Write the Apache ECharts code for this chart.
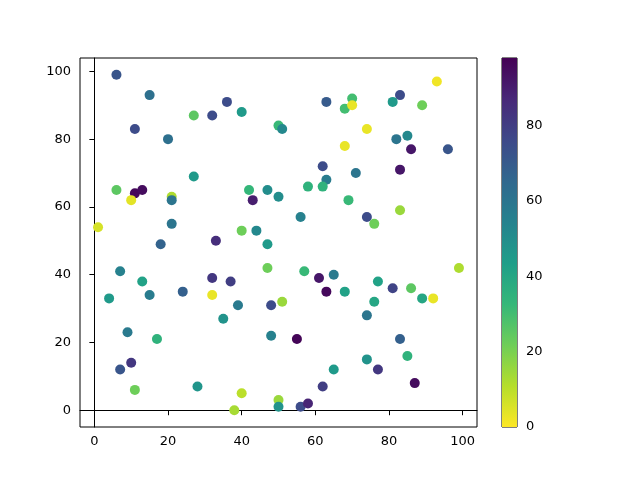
<!DOCTYPE html>
<html>
<head>
<meta charset="utf-8">
<script src="https://cdn.jsdelivr.net/npm/echarts@6/dist/echarts.min.js"></script>
<style>
  html, body { margin: 0; padding: 0; background: #fff; }
  #main { width: 640px; height: 480px; }
</style>
</head>
<body>
<div id="main"></div>
<script>
// 散点数据：x, y, 颜色值
var xs = [6, 15, 27, 32, 11, 20, 27, 6, 11, 13, 10, 21, 21, 1, 21, 18, 33, 36, 40, 50,
          51, 63, 68, 70, 70, 68, 62, 63, 58, 62, 42, 47, 43, 50, 56, 40, 44, 47, 93, 83,
          81, 89, 74, 82, 85, 86, 96, 71, 83, 69, 83, 74, 76, 7, 13, 4, 15, 24, 32, 32,
          9, 17, 10, 7, 11, 28, 47, 57, 61, 65, 63, 68, 37, 39, 48, 51, 35, 48, 55, 65,
          62, 40, 38, 50, 50, 56, 58, 77, 81, 86, 76, 89, 92, 99, 74, 83, 85, 74, 77, 87];
var ys = [99, 93, 87, 87, 83, 80, 69, 65, 64, 65, 62, 63, 62, 54, 55, 49, 50, 91, 88, 84,
          83, 91, 89, 92, 90, 78, 72, 68, 66, 66, 65, 65, 62, 63, 57, 53, 53, 49, 97, 93,
          91, 90, 83, 80, 81, 77, 77, 70, 71, 62, 59, 57, 55, 41, 38, 33, 34, 35, 39, 34,
          23, 21, 14, 12, 6, 7, 42, 41, 39, 40, 35, 35, 38, 31, 31, 32, 27, 22, 21, 12,
          7, 5, 0, 3, 1, 1, 2, 38, 36, 36, 32, 33, 33, 42, 28, 21, 16, 15, 12, 8];
var cs = [72, 62, 25, 75, 75, 62, 45, 25, 96, 95, 4, 12, 60, 6, 60, 67, 85, 75, 45, 32,
          52, 70, 30, 30, 3, 3, 75, 57, 35, 35, 33, 50, 90, 50, 55, 22, 52, 45, 2, 75,
          45, 22, 3, 60, 52, 92, 72, 60, 92, 32, 15, 75, 22, 55, 42, 45, 57, 68, 82, 3,
          58, 35, 82, 72, 22, 47, 22, 32, 92, 58, 96, 42, 80, 58, 75, 15, 48, 55, 97, 45,
          80, 10, 13, 15, 48, 75, 88, 42, 78, 25, 40, 40, 3, 12, 60, 68, 35, 48, 82, 95];

var ticks = [0, 20, 40, 60, 80, 100];
var cbarTicks = [0, 20, 40, 60, 80];
var cMin = 0, cMax = 98;

// viridis 反转：0 黄色 -> 98 深紫
var viridis = ['#440154', '#482878', '#3e4989', '#31688e', '#26828e',
               '#1f9e89', '#35b779', '#6ece58', '#b5de2b', '#fde725'];

var points = [];
for (var i = 0; i < xs.length; i++) {
    points.push([xs[i], ys[i], cs[i]]);
}

var font = 'DejaVu Sans';
var chart = echarts.init(document.getElementById('main'));

var gradStops = viridis.map(function (c, i) {
    return { offset: i / (viridis.length - 1), color: c };
});

var option = {
    animation: false,
    backgroundColor: '#fff',
    grid: [{
        left: 80, right: 163, top: 58, bottom: 53,
        show: true, borderColor: '#000', borderWidth: 1
    }, {
        left: 502, width: 15, top: 58, bottom: 53,
        show: true, borderColor: '#000', borderWidth: 1
    }],
    visualMap: {
        show: false,
        type: 'continuous',
        seriesIndex: 0,
        dimension: 2,
        min: cMin,
        max: cMax,
        inRange: { color: viridis.slice().reverse() }
    },
    xAxis: [{
        type: 'value', gridIndex: 0,
        min: -3.9, max: 103.9,
        splitLine: { show: false },
        axisLine: { lineStyle: { color: '#000' } },
        axisTick: { inside: false, length: 5, lineStyle: { color: '#000' }, customValues: ticks },
        axisLabel: { color: '#000', fontFamily: font, fontSize: 13, margin: 8, customValues: ticks }
    }, {
        type: 'category', gridIndex: 1, data: ['c'],
        axisLine: { show: false }, axisTick: { show: false }, axisLabel: { show: false }
    }],
    yAxis: [{
        type: 'value', gridIndex: 0,
        min: -4.95, max: 103.95,
        splitLine: { show: false },
        axisLine: { lineStyle: { color: '#000' } },
        axisTick: { inside: false, length: 5, lineStyle: { color: '#000' }, customValues: ticks },
        axisLabel: { color: '#000', fontFamily: font, fontSize: 13, margin: 9, customValues: ticks }
    }, {
        type: 'value', gridIndex: 1, position: 'right',
        min: cMin, max: cMax,
        splitLine: { show: false },
        axisLine: { show: false },
        axisTick: { inside: false, length: 5, lineStyle: { color: '#000' }, customValues: cbarTicks },
        axisLabel: { color: '#000', fontFamily: font, fontSize: 13, margin: 9, customValues: cbarTicks }
    }],
    series: [{
        type: 'scatter',
        xAxisIndex: 0, yAxisIndex: 0,
        symbolSize: 10,
        itemStyle: { opacity: 1 },
        data: points
    }, {
        // 颜色条
        type: 'bar',
        xAxisIndex: 1, yAxisIndex: 1,
        barWidth: '100%',
        silent: true,
        itemStyle: {
            color: new echarts.graphic.LinearGradient(0, 0, 0, 1, gradStops)
        },
        data: [cMax]
    }]
};

chart.setOption(option);
</script>
</body>
</html>
